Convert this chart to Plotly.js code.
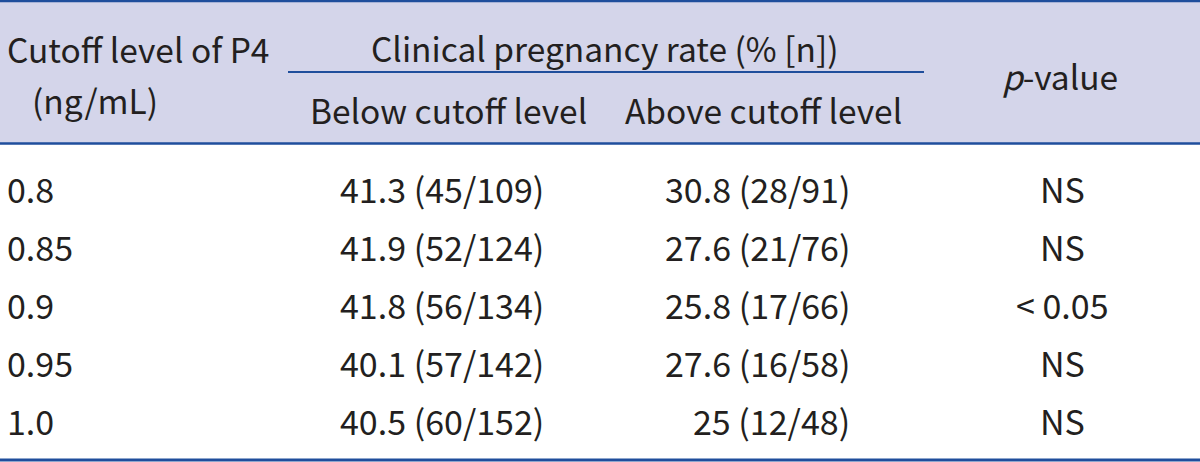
<!DOCTYPE html>
<html>
<head>
<meta charset="utf-8">
<script src="https://cdn.plot.ly/plotly-3.0.1.min.js"></script>
<style>
  html, body { margin: 0; padding: 0; background: #ffffff; }
  #chart { width: 1200px; height: 462px; }
</style>
</head>
<body>
<div id="chart"></div>
<script>
const cutoffLevels   = ['0.8', '0.85', '0.9', '0.95', '1.0'];
const belowRate      = [41.3, 41.9, 41.8, 40.1, 40.5];
const belowPregnant  = [45, 52, 56, 57, 60];
const belowTotal     = [109, 124, 134, 142, 152];
const aboveRate      = [30.8, 27.6, 25.8, 27.6, 25];
const abovePregnant  = [28, 21, 17, 16, 12];
const aboveTotal     = [91, 76, 66, 58, 48];
const pValues        = ['NS', 'NS', '&lt; 0.05', 'NS', 'NS'];

const headerCutoff1  = 'Cutoff level of P4';
const headerCutoff2  = '(ng/mL)';
const headerGroup    = 'Clinical pregnancy rate (% [n])';
const headerBelow    = 'Below cutoff level';
const headerAbove    = 'Above cutoff level';
const headerP        = '<i>p</i>-value';

// ---- Layout / style ----
const FONT = '"Noto Sans CJK SC", "Source Sans Pro", "Open Sans", sans-serif';
const TEXT_COLOR = '#231f20';
const HEAD_FILL = '#d4d5ea';
const RULE = '#1f4e9c';
const HEAD_SIZE = 33.5;
const BODY_SIZE = 34;

const rowY0 = 188, rowStep = 58;
const colCutoffX = 5, colBelowRight = 546, colAboveRight = 852, colPX = 1062;

const annotations = [];
function addText(text, x, y, xanchor, size) {
  annotations.push({
    xref: 'x', yref: 'y', x: x, y: y, text: text,
    xanchor: xanchor, yanchor: 'middle', showarrow: false,
    font: { family: FONT, size: size, color: TEXT_COLOR }
  });
}

// header
addText(headerCutoff1, 5, 48, 'left', HEAD_SIZE);
addText(headerCutoff2, 30, 99, 'left', HEAD_SIZE);
addText(headerGroup, 605, 47, 'center', HEAD_SIZE);
addText(headerBelow, 448, 109, 'center', HEAD_SIZE);
addText(headerAbove, 763, 109, 'center', HEAD_SIZE);
addText(headerP, 1060, 75, 'center', HEAD_SIZE);

// body rows
cutoffLevels.forEach(function (lvl, i) {
  const y = rowY0 + i * rowStep;
  addText(lvl, colCutoffX, y, 'left', BODY_SIZE);
  addText(String(belowRate[i]) + ' (' + belowPregnant[i] + '/' + belowTotal[i] + ')',
          colBelowRight, y, 'right', BODY_SIZE);
  addText(String(aboveRate[i]) + ' (' + abovePregnant[i] + '/' + aboveTotal[i] + ')',
          colAboveRight, y, 'right', BODY_SIZE);
  addText(pValues[i], colPX, y, 'center', BODY_SIZE);
});

const shapes = [
  { type: 'rect', xref: 'x', yref: 'y', x0: 0, x1: 1200, y0: 1, y1: 143,
    fillcolor: HEAD_FILL, line: { width: 0 }, layer: 'below' },
  { type: 'line', xref: 'x', yref: 'y', x0: 0, x1: 1200, y0: 1, y1: 1,
    line: { color: RULE, width: 2.5 } },
  { type: 'line', xref: 'x', yref: 'y', x0: 288, x1: 924, y0: 72, y1: 72,
    line: { color: RULE, width: 2 } },
  { type: 'line', xref: 'x', yref: 'y', x0: 0, x1: 1200, y0: 143.5, y1: 143.5,
    line: { color: RULE, width: 2.5 } },
  { type: 'line', xref: 'x', yref: 'y', x0: 0, x1: 1200, y0: 460, y1: 460,
    line: { color: RULE, width: 3 } }
];

const layout = {
  width: 1200, height: 462,
  margin: { l: 0, r: 0, t: 0, b: 0, pad: 0 },
  paper_bgcolor: '#ffffff', plot_bgcolor: '#ffffff',
  showlegend: false,
  xaxis: { range: [0, 1200], visible: false, fixedrange: true },
  yaxis: { range: [462, 0], visible: false, fixedrange: true },
  shapes: shapes,
  annotations: annotations
};

// invisible anchor trace so the cartesian axes exist
const traces = [{ type: 'scatter', x: [0], y: [0], mode: 'markers',
  marker: { opacity: 0 }, hoverinfo: 'skip' }];

Plotly.newPlot('chart', traces, layout, { staticPlot: true, displayModeBar: false });
</script>
</body>
</html>
